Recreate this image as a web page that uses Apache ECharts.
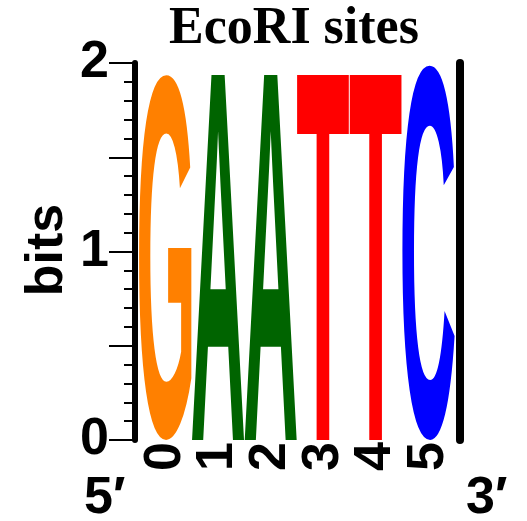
<!DOCTYPE html>
<html>
<head>
<meta charset="utf-8">
<title>EcoRI sites</title>
<script src="https://cdn.jsdelivr.net/npm/echarts@6/dist/echarts.min.js"></script>
<style>
  html, body { margin: 0; padding: 0; background: #fff; }
  #chart { width: 527px; height: 521px; }
</style>
</head>
<body>
<div id="chart"></div>
<script>
// Sequence logo columns: position labels, the base at each position and its information content (bits)
const positions = ['0', '1', '2', '3', '4', '5'];
const letters = ['G', 'A', 'A', 'T', 'T', 'C'];
const bits = [1.94, 1.97, 1.97, 1.97, 1.97, 1.99];
const yTicks = [0, 1, 2];

const baseColors = { G: '#FF8000', A: '#006400', T: '#FF0000', C: '#0000FF' };
const LOGO_FONT = 'Liberation Sans';
const LOGO_SIZE = 100;

// Ink bounds of a glyph, relative to a centred / middle-baseline anchor
const measureCtx = document.createElement('canvas').getContext('2d');
const inkCache = {};
function glyphInk(ch) {
  if (inkCache[ch]) return inkCache[ch];
  measureCtx.font = 'bold ' + LOGO_SIZE + 'px "' + LOGO_FONT + '"';
  measureCtx.textAlign = 'center';
  measureCtx.textBaseline = 'middle';
  const m = measureCtx.measureText(ch);
  inkCache[ch] = {
    L: m.actualBoundingBoxLeft, R: m.actualBoundingBoxRight,
    A: m.actualBoundingBoxAscent, D: m.actualBoundingBoxDescent
  };
  return inkCache[ch];
}

const chart = echarts.init(document.getElementById('chart'), null, { renderer: 'canvas' });

const sansBold = { fontFamily: 'Liberation Sans', fontWeight: 'bold', color: '#000' };

chart.setOption({
  animation: false,
  backgroundColor: '#fff',
  grid: { left: 139, right: 72, top: 63, bottom: 81, containLabel: false, outerBoundsMode: 'none' },
  xAxis: {
    type: 'category',
    data: positions,
    axisLine: { show: false },
    axisTick: { show: false },
    axisLabel: Object.assign({ rotate: 90, fontSize: 52, margin: 2, interval: 0 }, sansBold),
    splitLine: { show: false }
  },
  yAxis: [{
    type: 'value',
    min: 0, max: 2, interval: 0.5,
    offset: 4,
    axisLine: { show: true, lineStyle: { color: '#000', width: 6 } },
    axisTick: { show: true, length: 26, lineStyle: { color: '#000', width: 2 } },
    minorTick: { show: true, splitNumber: 5, length: 11, lineStyle: { color: '#000', width: 2 } },
    axisLabel: Object.assign({
      fontSize: 52, margin: 26,
      formatter: v => (yTicks.indexOf(v) >= 0 ? String(v) : '')
    }, sansBold),
    splitLine: { show: false }
  }, {
    type: 'value',
    position: 'right',
    min: 0, max: 2,
    offset: 5,
    axisLine: { show: true, lineStyle: { color: '#000', width: 8 } },
    axisTick: { show: false },
    axisLabel: { show: false },
    splitLine: { show: false }
  }],
  graphic: [
    {
      type: 'text', x: 294, y: 30,
      style: {
        text: 'EcoRI sites', fill: '#000',
        font: 'bold 52px "Liberation Serif"',
        textAlign: 'center', textVerticalAlign: 'middle'
      }
    },
    {
      // y-axis title
      type: 'text', x: 47.5, y: 250, rotation: Math.PI / 2,
      style: {
        text: 'bits', fill: '#000',
        font: 'bold 52px "Liberation Sans"',
        textAlign: 'center', textVerticalAlign: 'middle'
      }
    },
    {
      type: 'text', x: 84, y: 499,
      style: {
        text: '5\u2032', fill: '#000',
        font: 'bold 52px "Liberation Sans"',
        textAlign: 'left', textVerticalAlign: 'middle'
      }
    },
    {
      type: 'text', x: 466, y: 499,
      style: {
        text: '3\u2032', fill: '#000',
        font: 'bold 52px "Liberation Sans"',
        textAlign: 'left', textVerticalAlign: 'middle'
      }
    }
  ],
  series: [{
    type: 'custom',
    clip: false,
    data: positions.map((p, i) => [i, bits[i]]),
    renderItem: function (params, api) {
      const ch = letters[params.dataIndex];
      const ink = glyphInk(ch);
      const base = api.coord([api.value(0), 0]);
      const top = api.coord([api.value(0), api.value(1)]);
      const bw = api.size([1, 0])[0];
      const bh = base[1] - top[1];
      const sx = bw / (ink.L + ink.R);
      const sy = bh / (ink.A + ink.D);
      return {
        type: 'text',
        x: base[0] - bw / 2 + ink.L * sx,
        y: top[1] + ink.A * sy,
        scaleX: sx,
        scaleY: sy,
        style: {
          text: ch,
          x: 0, y: 0,
          fontFamily: LOGO_FONT,
          fontWeight: 'bold',
          fontSize: LOGO_SIZE,
          fill: baseColors[ch],
          align: 'center',
          verticalAlign: 'middle'
        }
      };
    }
  }]
});
</script>
</body>
</html>
